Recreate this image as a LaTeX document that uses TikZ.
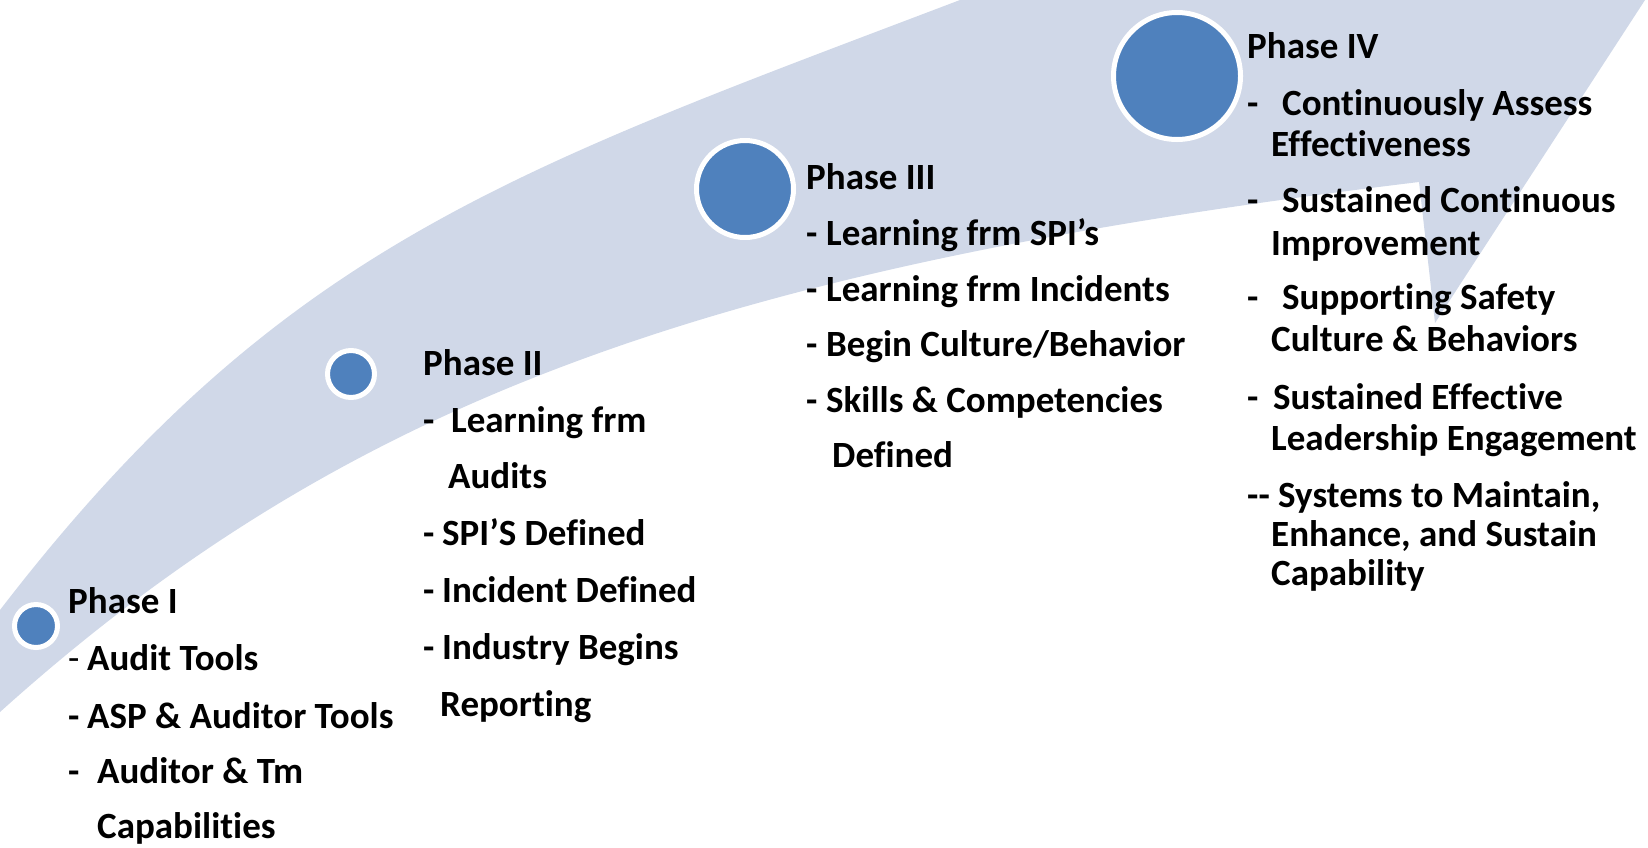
\documentclass[tikz,border=0pt]{standalone}
\usepackage{fontspec}
\setmainfont{Carlito}[Ligatures={NoCommon}]

\definecolor{bandblue}{RGB}{208,216,232}
\definecolor{dotblue}{RGB}{79,129,189}

\tikzset{
  phasedot/.style={circle, fill=dotblue, draw=white, line width=5pt, inner sep=0pt},
  phasetext/.style={anchor=base west, inner sep=0pt, black,
    font={\fontsize{37}{44}\selectfont\bfseries}},
}
\newcommand{\itemdash}[1]{\makebox[#1pt][l]{-}}

\begin{document}
\begin{tikzpicture}[x=1pt, y=-1pt]
    \useasboundingbox (0,0) rectangle (1648,847);
    % the rising band with its head
    \fill[bandblue] (0,610) .. controls (280,246) and (510,171) .. (960,0)
        -- (1645,0) -- (1435,323) -- (1419,182)
        .. controls (718,267) and (350,397) .. (0,712) -- cycle;

    % milestones
    \node[phasedot, minimum size=43pt] (dot1) at (36,626) {};
    \node[phasedot, minimum size=47pt] (dot2) at (351,374) {};
    \node[phasedot, minimum size=97pt] (dot3) at (745,189) {};
    \node[phasedot, minimum size=127pt] (dot4) at (1177,76) {};

    % Phase I
    \node[phasetext] (ph1) at (68,613) {Phase I};
    \node[phasetext] (ph1a) at (68,670) {{\mdseries\itemdash{19}}Audit Tools};
    \node[phasetext] (ph1b) at (68,728) {\itemdash{19}ASP \& Auditor Tools};
    \node[phasetext] (ph1c) at (68,783) {\itemdash{29}Auditor \& Tm};
    \node[phasetext] (ph1d) at (97,838) {Capabilities};

    % Phase II
    \node[phasetext] (ph2) at (423,375) {Phase II};
    \node[phasetext] (ph2a) at (423,432) {\itemdash{28}Learning frm};
    \node[phasetext] (ph2b) at (448,488) {Audits};
    \node[phasetext] (ph2c) at (423,545) {\itemdash{19}SPI’S Defined};
    \node[phasetext] (ph2d) at (423,602) {\itemdash{19}Incident Defined};
    \node[phasetext] (ph2e) at (423,659) {\itemdash{19}Industry Begins};
    \node[phasetext] (ph2f) at (440,716) {Reporting};

    % Phase III
    \node[phasetext] (ph3) at (806,189) {Phase III};
    \node[phasetext] (ph3a) at (806,245) {\itemdash{20}Learning frm SPI’s};
    \node[phasetext] (ph3b) at (806,301) {\itemdash{20}Learning frm Incidents};
    \node[phasetext] (ph3c) at (806,356) {\itemdash{20}Begin Culture/Behavior};
    \node[phasetext] (ph3d) at (806,412) {\itemdash{20}Skills \& Competencies};
    \node[phasetext] (ph3e) at (832,467) {Defined};

    % Phase IV
    \node[phasetext] (ph4) at (1247,58) {Phase IV};
    \node[phasetext] (ph4a) at (1247,115) {\itemdash{35}Continuously Assess};
    \node[phasetext] (ph4b) at (1271,156) {Effectiveness};
    \node[phasetext] (ph4c) at (1247,212) {\itemdash{35}Sustained Continuous};
    \node[phasetext] (ph4d) at (1271,255) {Improvement};
    \node[phasetext] (ph4e) at (1247,309) {\itemdash{35}Supporting Safety};
    \node[phasetext] (ph4f) at (1271,351) {Culture \& Behaviors};
    \node[phasetext] (ph4g) at (1247,409) {\itemdash{26}Sustained Effective};
    \node[phasetext] (ph4h) at (1271,450) {Leadership Engagement};
    \node[phasetext] (ph4i) at (1247,507) {{-}{-} Systems to Maintain,};
    \node[phasetext] (ph4j) at (1271,546) {Enhance, and Sustain};
    \node[phasetext] (ph4k) at (1271,585) {Capability};
\end{tikzpicture}
\end{document}
